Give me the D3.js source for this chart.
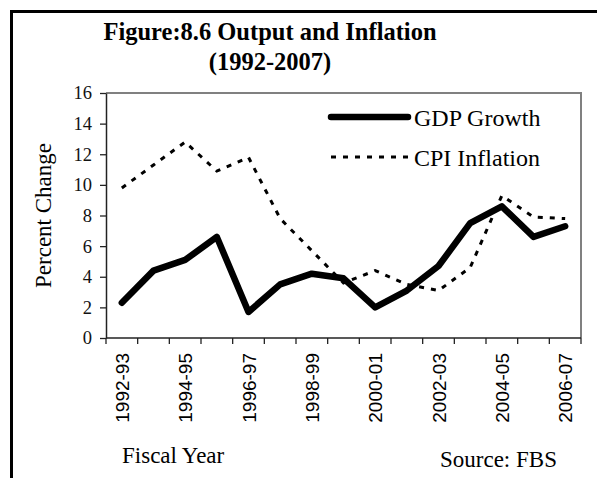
<!DOCTYPE html>
<html lang="en">
<head>
<meta charset="UTF-8" />
<title>Output and Inflation</title>
<style>
  body { margin: 0; background: #fff; }
  svg { display: block; }
</style>
</head>
<body>
<div id="chart"></div>
<script src="https://d3js.org/d3.v7.min.js"></script>
<script>
  const years = ["1992-93", "1993-94", "1994-95", "1995-96", "1996-97", "1997-98", "1998-99",
    "1999-00", "2000-01", "2001-02", "2002-03", "2003-04", "2004-05", "2005-06", "2006-07"];
  const gdpGrowth = [2.3, 4.4, 5.1, 6.6, 1.7, 3.5, 4.2, 3.9, 2.0, 3.1, 4.7, 7.5, 8.6, 6.6, 7.3];
  const cpiInflation = [9.8, 11.3, 12.8, 10.9, 11.8, 7.8, 5.7, 3.6, 4.4, 3.5, 3.1, 4.6, 9.3, 7.9, 7.8];
  const yTicks = [0, 2, 4, 6, 8, 10, 12, 14, 16];
  const shownYears = ["1992-93", "1994-95", "1996-97", "1998-99", "2000-01", "2002-03", "2004-05", "2006-07"];

  const W = 597, H = 478;
  const plot = { left: 106, right: 581, top: 93, bottom: 338 };
  const serif = "'Liberation Serif', 'Times New Roman', serif";

  const svg = d3.select("#chart").append("svg")
    .attr("width", W)
    .attr("height", H);

  // outer frame (only top and left edges are inside the picture)
  svg.append("path")
    .attr("d", `M11.5,${H} V11.5 H${W}`)
    .attr("fill", "none")
    .attr("stroke", "#000")
    .attr("stroke-width", 3);

  // title
  const title = svg.append("text")
    .attr("text-anchor", "middle")
    .attr("font-family", serif)
    .attr("font-weight", "bold")
    .attr("font-size", 24.5)
    .attr("fill", "#000");
  title.append("tspan").attr("x", 270).attr("y", 40).text("Figure:8.6 Output and Inflation");
  title.append("tspan").attr("x", 270).attr("y", 70).text("(1992-2007)");

  const x = d3.scaleBand().domain(years).range([plot.left, plot.right]);
  const y = d3.scaleLinear().domain([0, 16]).range([plot.bottom, plot.top]);

  // plot box: top and right in gray
  svg.append("path")
    .attr("d", `M${plot.left},${plot.top} H${plot.right} V${plot.bottom}`)
    .attr("fill", "none")
    .attr("stroke", "#808080")
    .attr("stroke-width", 2);

  // y axis
  const yAxis = svg.append("g")
    .attr("transform", `translate(${plot.left},0)`)
    .call(d3.axisLeft(y).tickValues(yTicks).tickSize(6).tickPadding(8).tickSizeOuter(0));
  yAxis.select(".domain").attr("stroke", "#222").attr("stroke-width", 1.5);
  yAxis.selectAll(".tick line").attr("stroke", "#222").attr("stroke-width", 1.3);
  yAxis.selectAll("text")
    .style("font-family", serif)
    .style("font-size", "18.5px")
    .attr("fill", "#111");

  // x axis: ticks at category boundaries
  const xAxis = svg.append("g")
    .attr("transform", `translate(0,${plot.bottom})`);
  xAxis.append("line")
    .attr("x1", plot.left).attr("x2", plot.right)
    .attr("stroke", "#222").attr("stroke-width", 1.5);
  const bounds = years.map(d => x(d)).concat([x(years[years.length - 1]) + x.bandwidth()]);
  xAxis.selectAll("line.tk")
    .data(bounds)
    .join("line")
    .attr("class", "tk")
    .attr("x1", d => d).attr("x2", d => d)
    .attr("y1", 0).attr("y2", 6)
    .attr("stroke", "#222").attr("stroke-width", 1.3);
  xAxis.selectAll("text")
    .data(shownYears)
    .join("text")
    .attr("transform", d => `translate(${x(d) + x.bandwidth() / 2 + 7},15) rotate(-90)`)
    .attr("text-anchor", "end")
    .attr("font-family", "'Liberation Sans', Arial, sans-serif")
    .attr("font-size", 19)
    .attr("fill", "#000")
    .text(d => d);

  // axis titles
  svg.append("text")
    .attr("transform", `translate(51,${(plot.top + plot.bottom) / 2}) rotate(-90)`)
    .attr("text-anchor", "middle")
    .attr("font-family", serif)
    .attr("font-size", 23)
    .text("Percent Change");

  svg.append("text")
    .attr("x", 122).attr("y", 463)
    .attr("font-family", serif)
    .attr("font-size", 23)
    .text("Fiscal Year");

  svg.append("text")
    .attr("x", 440).attr("y", 467)
    .attr("font-family", serif)
    .attr("font-size", 23)
    .text("Source: FBS");

  // lines
  const cx = d => x(d) + x.bandwidth() / 2;
  const line = d3.line().x(d => cx(d[0])).y(d => y(d[1]));

  svg.append("path")
    .datum(d3.zip(years, cpiInflation))
    .attr("d", line)
    .attr("fill", "none")
    .attr("stroke", "#000")
    .attr("stroke-width", 3)
    .attr("stroke-dasharray", "5,7");

  svg.append("path")
    .datum(d3.zip(years, gdpGrowth))
    .attr("d", line)
    .attr("fill", "none")
    .attr("stroke", "#000")
    .attr("stroke-width", 6.5)
    .attr("stroke-linejoin", "round")
    .attr("stroke-linecap", "round");

  // legend
  const legend = svg.append("g");
  legend.append("line")
    .attr("x1", 331).attr("x2", 408).attr("y1", 117).attr("y2", 117)
    .attr("stroke", "#000").attr("stroke-width", 6.5).attr("stroke-linecap", "round");
  legend.append("text")
    .attr("x", 414).attr("y", 126)
    .attr("font-family", serif)
    .attr("font-size", 24)
    .text("GDP Growth");
  legend.append("line")
    .attr("x1", 331).attr("x2", 410).attr("y1", 157).attr("y2", 157)
    .attr("stroke", "#000").attr("stroke-width", 3).attr("stroke-dasharray", "5,7");
  legend.append("text")
    .attr("x", 414).attr("y", 166)
    .attr("font-family", serif)
    .attr("font-size", 24)
    .text("CPI Inflation");
</script>
</body>
</html>
